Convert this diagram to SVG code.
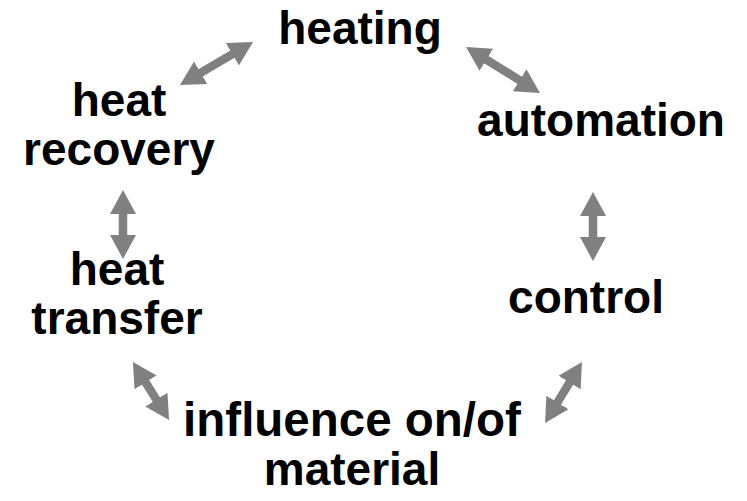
<svg xmlns="http://www.w3.org/2000/svg" width="747" height="501" viewBox="0 0 747 501">
<style>
text{font-family:"Liberation Sans",Arial,sans-serif;font-weight:bold;font-size:46px;fill:#000;text-anchor:middle}
.arr{stroke:#808080;stroke-width:8.5;fill:none;marker-start:url(#head);marker-end:url(#head)}
</style>
<defs>
<marker id="head" markerUnits="userSpaceOnUse" markerWidth="24" markerHeight="26" refX="4" refY="13" orient="auto-start-reverse" viewBox="0 0 24 26">
<path d="M0,0 L24,13 L0,26 z" fill="#808080"/>
</marker>
</defs>
<rect width="747" height="501" fill="#fff"/>
<g id="connectors">
<line class="arr" x1="197.2" y1="74.8" x2="235.8" y2="52.2"/>
<line class="arr" x1="483" y1="57.6" x2="523" y2="82.4"/>
<line class="arr" x1="593" y1="212" x2="593" y2="241"/>
<line class="arr" x1="571.6" y1="379.1" x2="555.4" y2="405.9"/>
<line class="arr" x1="143.5" y1="379" x2="158.5" y2="403"/>
<line class="arr" x1="123" y1="210" x2="123" y2="239"/>
</g>
<g id="heating"><text x="360" y="44">heating</text></g>
<g id="automation"><text x="601" y="136">automation</text></g>
<g id="control"><text x="586" y="313">control</text></g>
<g id="influence"><text x="352" y="436" style="font-size:47.5px">influence on/of</text><text x="352" y="485">material</text></g>
<g id="heat-transfer"><text x="117" y="285">heat</text><text x="117" y="334">transfer</text></g>
<g id="heat-recovery"><text x="119" y="116">heat</text><text x="119" y="165">recovery</text></g>
</svg>
